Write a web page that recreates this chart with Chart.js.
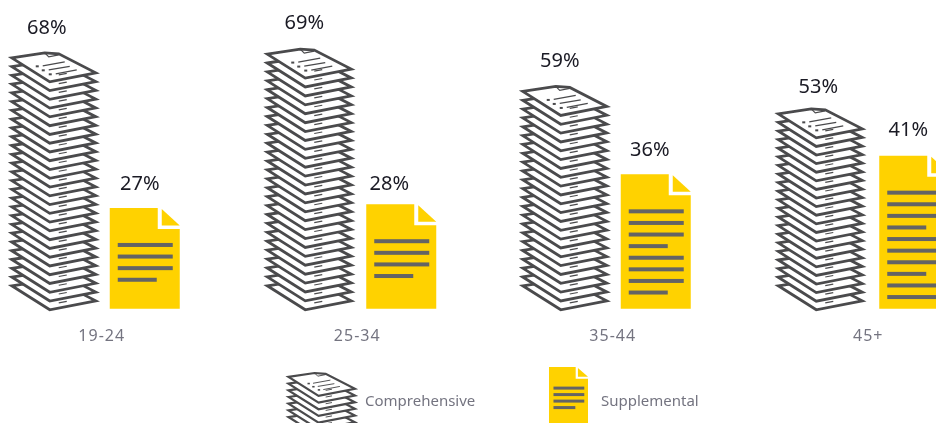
<!DOCTYPE html>
<html>
<head>
<meta charset="utf-8">
<title>Comprehensive vs supplemental</title>
<script src="https://cdn.jsdelivr.net/npm/chart.js@4"></script>
<style>
  html, body { margin: 0; padding: 0; background: #fff; overflow: hidden; width: 936px; height: 423px; }
  #wrap { position: absolute; left: -28px; top: 0; width: 1022px; height: 423px; }
</style>
</head>
<body>
<div id="wrap"><canvas id="chart" width="1022" height="423"></canvas></div>
<script>
const categories = ['19-24', '25-34', '35-44', '45+'];
const comprehensive = [68, 69, 59, 53];
const supplemental = [27, 28, 36, 41];
const supplementalRows = [4, 4, 8, 10];

const DARK = '#4a4a4c';
const YELLOW = '#ffd200';
const LINE = '#646464';
const GREY = '#747480';

// nudges, the original icons and labels are a bit off centre
const compLabelShift = [-8, -6, -6, -3];
const suppLabelShift = [-5, -11, -6, -3];
const compLabelDrop = [0, -1, 0, 3];
const suppLabelDrop = [1, 5, 1, 0];
const docShift = [0, 1, 0, 3];

// one sheet of paper, s is the scale (1 = 90px wide)
function drawSheet(ctx, cx, top, s, isTop) {
  const px = (x) => cx + x * s;
  const py = (y) => top + y * s;

  ctx.beginPath();
  ctx.moveTo(px(-43), py(5));
  ctx.lineTo(px(-10), py(0));
  ctx.lineTo(px(4), py(1));
  ctx.lineTo(px(41), py(20));
  ctx.lineTo(px(-5), py(29));
  ctx.closePath();
  ctx.fillStyle = '#fff';
  ctx.fill();
  ctx.strokeStyle = DARK;
  ctx.lineWidth = 2.8 * s;
  ctx.stroke();

  ctx.lineWidth = 1.2 * s;
  // only the small dash shows on the sheets underneath
  ctx.beginPath();
  ctx.moveTo(px(4), py(22));
  ctx.lineTo(px(12), py(20.5));
  ctx.stroke();
  if (!isTop) return;

  // fold
  ctx.beginPath();
  ctx.moveTo(px(-10), py(0));
  ctx.lineTo(px(-6), py(4));
  ctx.lineTo(px(4), py(2));
  ctx.stroke();

  // text rows
  const rows = [[-12, 10, 13, 9], [-6, 15, 17, 13.5], [1, 22, 21, 17]];
  rows.forEach((r) => {
    ctx.beginPath();
    ctx.moveTo(px(r[0]), py(r[2]));
    ctx.lineTo(px(r[1]), py(r[3]));
    ctx.stroke();
    ctx.fillStyle = DARK;
    ctx.fillRect(px(r[0] - 7), py(r[2]) - 0.5, 3 * s, 2 * s);
  });
}

function drawStack(ctx, cx, top, bottom, s) {
  const sheetH = 29 * s;
  const n = Math.round((bottom - top - sheetH) / (8.75 * s)) + 1;
  const pitch = (bottom - top - sheetH) / (n - 1);
  for (let i = 0; i < n; i++) {
    drawSheet(ctx, cx, bottom - sheetH - i * pitch, s, i === n - 1);
  }
}

function drawDoc(ctx, x, top, bottom, w, rows, s) {
  const foldW = 22 * s;
  const foldH = 21 * s;
  const right = x + w;

  ctx.fillStyle = YELLOW;
  ctx.beginPath();
  ctx.moveTo(x, top);
  ctx.lineTo(right - foldW, top);
  ctx.lineTo(right - foldW, top + foldH);
  ctx.lineTo(right, top + foldH);
  ctx.lineTo(right, bottom);
  ctx.lineTo(x, bottom);
  ctx.closePath();
  ctx.fill();

  ctx.beginPath();
  ctx.moveTo(right - foldW + 4 * s, top + 1);
  ctx.lineTo(right, top + foldH - 3.5 * s);
  ctx.lineTo(right - foldW + 4 * s, top + foldH - 3.5 * s);
  ctx.closePath();
  ctx.fill();

  ctx.fillStyle = LINE;
  for (let i = 0; i < rows; i++) {
    const short = i % 4 === 3;
    const len = (short ? 39 : 55) * s;
    ctx.fillRect(x + 8 * s, top + (35 + i * 11.6) * s, len, Math.max(3, 4 * s));
  }
}

const iconsPlugin = {
  id: 'icons',
  beforeDraw(chart) {
    // tick labels are spaced out in the original
    chart.ctx.letterSpacing = '1px';
  },
  afterDatasetsDraw(chart) {
    const ctx = chart.ctx;
    const a = chart.getDatasetMeta(0).data;
    const b = chart.getDatasetMeta(1).data;
    ctx.save();
    ctx.letterSpacing = '0px';
    ctx.lineJoin = 'miter';
    a.forEach((bar) => drawStack(ctx, bar.x, bar.y - 2, bar.base + 1, 1));
    b.forEach((bar, i) => drawDoc(ctx, bar.x - 35 + docShift[i], bar.y, bar.base, 70, supplementalRows[i], 1));

    // value labels
    ctx.fillStyle = '#1a1a24';
    ctx.font = '20px "Noto Sans", sans-serif';
    ctx.textAlign = 'center';
    ctx.textBaseline = 'middle';
    a.forEach((bar, i) => ctx.fillText(comprehensive[i] + '%', bar.x + compLabelShift[i], bar.y - 27 + compLabelDrop[i]));
    b.forEach((bar, i) => ctx.fillText(supplemental[i] + '%', bar.x + suppLabelShift[i], bar.y - 25 + suppLabelDrop[i]));

    // legend
    const offset = 28; // canvas sits 28px left of the page
    ctx.font = '15px "Noto Sans", sans-serif';
    ctx.textAlign = 'left';
    drawStack(ctx, 322.5 + offset, 373, 436, 0.79);
    drawDoc(ctx, 549 + offset, 367, 423, 39, 4, 0.56);
    ctx.fillStyle = GREY;
    ctx.fillText(chart.data.datasets[0].label, 365 + offset, 402);
    ctx.fillText(chart.data.datasets[1].label, 601 + offset, 402);
    ctx.restore();
  }
};

new Chart(document.getElementById('chart'), {
  type: 'bar',
  data: {
    labels: categories,
    datasets: [
      { label: 'Comprehensive', data: comprehensive, backgroundColor: 'rgba(0,0,0,0)', barThickness: 90 },
      { label: 'Supplemental', data: supplemental, backgroundColor: 'rgba(0,0,0,0)', barThickness: 90, maxBarThickness: 70 },
    ],
  },
  options: {
    responsive: false,
    animation: false,
    layout: { padding: { top: 10, bottom: 67 } },
    plugins: {
      legend: { display: false },
      tooltip: { enabled: false },
    },
    scales: {
      x: {
        grid: { display: false },
        border: { display: false },
        ticks: { color: GREY, font: { size: 16, family: '"Noto Sans", sans-serif' }, padding: 10, maxRotation: 0, labelOffset: 2 },
      },
      y: { display: false, min: 0, max: 80 },
    },
  },
  plugins: [iconsPlugin],
});
</script>
</body>
</html>
